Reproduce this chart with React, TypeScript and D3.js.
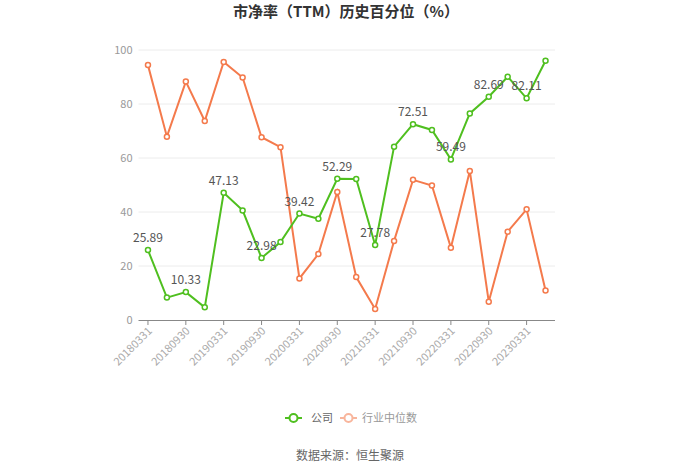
import React from "react";
import * as d3 from "d3";

const dates = [
  "20180331","20180630","20180930","20181231",
  "20190331","20190630","20190930","20191231",
  "20200331","20200630","20200930","20201231",
  "20210331","20210630","20210930","20211231",
  "20220331","20220630","20220930","20221231",
  "20230331","20230630",
];
const companyValues = [
  25.89, 8.3, 10.33, 4.7, 47.13, 40.6, 22.98, 28.9, 39.42, 37.5, 52.29, 52.2,
  27.78, 64.2, 72.51, 70.4, 59.49, 76.5, 82.69, 90.1, 82.11, 96.0,
];
const industryValues = [
  94.4, 67.9, 88.3, 73.7, 95.6, 89.8, 67.7, 64.0, 15.4, 24.4, 47.4, 15.9,
  4.1, 29.3, 51.9, 49.8, 26.8, 55.2, 6.8, 32.7, 41.0, 10.9,
];
const yTicks = [0, 20, 40, 60, 80, 100];
const seriesNames = ["公司", "行业中位数"];
const title = "市净率（TTM）历史百分位（%）";
const source = "数据来源：恒生聚源";

const GREEN = "#4fbf1f";
const ORANGE = "#f47a4c";
const FONT = "'Microsoft YaHei', 'Noto Sans CJK SC', 'Noto Sans', sans-serif";

export default function App() {
  const W = 700, H = 473;
  const left = 138.5, right = 555, top = 50, bottom = 320;
  const x = d3.scaleBand<string>().domain(dates).range([left, right]);
  const cx = (d: string) => (x(d) as number) + x.bandwidth() / 2;
  const y = d3.scaleLinear().domain([0, 100]).range([bottom, top]);
  const line = d3.line<number>().x((_, i) => cx(dates[i])).y((v) => y(v));

  return (
    <svg width={W} height={H} style={{ position: "absolute", left: 0, top: 0, background: "#fff" }} fontFamily={FONT}>
      <text x={346} y={17} textAnchor="middle" fontSize={15} fontWeight="bold" fill="#333">{title}</text>
      {yTicks.map((t) => (
        <g key={t}>
          {t > 0 && <line x1={left} x2={right} y1={y(t)} y2={y(t)} stroke="#ececec" strokeWidth={1} />}
          <text x={left - 6} y={y(t)} dy="0.35em" textAnchor="end" fontSize={11} fill="#999">{t}</text>
        </g>
      ))}
      <line x1={left} x2={right} y1={bottom + 0.5} y2={bottom + 0.5} stroke="#888" strokeWidth={1} />
      {dates.map((d, i) => i % 2 === 0 ? (
        <g key={d}>
          <line x1={cx(d)} x2={cx(d)} y1={bottom} y2={bottom + 5} stroke="#888" />
          <text transform={`translate(${cx(d) + 2},${bottom + 9}) rotate(-45)`} textAnchor="end" dy="0.35em" fontSize={11} fill="#aaa">{d}</text>
        </g>
      ) : null)}
      <path d={line(industryValues) || ""} fill="none" stroke={ORANGE} strokeWidth={2} />
      {industryValues.map((v, i) => (
        <circle key={"o" + i} cx={cx(dates[i])} cy={y(v)} r={2.5} fill="#fff" stroke={ORANGE} strokeWidth={1.5} />
      ))}
      <path d={line(companyValues) || ""} fill="none" stroke={GREEN} strokeWidth={2} />
      {companyValues.map((v, i) => (
        <circle key={"g" + i} cx={cx(dates[i])} cy={y(v)} r={2.5} fill="#fff" stroke={GREEN} strokeWidth={1.5} />
      ))}
      {companyValues.map((v, i) => i % 2 === 0 ? (
        <text key={"l" + i} x={cx(dates[i])} y={y(v) - 8} textAnchor="middle" fontSize={12} fill="#555">{v.toFixed(2)}</text>
      ) : null)}
      <g>
        <line x1={285} x2={302} y1={418} y2={418} stroke={GREEN} strokeWidth={2} />
        <circle cx={293.5} cy={418} r={4} fill="#fff" stroke={GREEN} strokeWidth={2} />
        <text x={311} y={418} dy="0.35em" fontSize={11} fill="#666">{seriesNames[0]}</text>
        <g opacity={0.55}>
          <line x1={340} x2={357} y1={418} y2={418} stroke={ORANGE} strokeWidth={2} />
          <circle cx={348.5} cy={418} r={4} fill="#fff" stroke={ORANGE} strokeWidth={2} />
        </g>
        <text x={362} y={418} dy="0.35em" fontSize={11} fill="#999">{seriesNames[1]}</text>
      </g>
      <text x={350} y={456} dy="0.35em" textAnchor="middle" fontSize={12} fill="#666">{source}</text>
    </svg>
  );
}
